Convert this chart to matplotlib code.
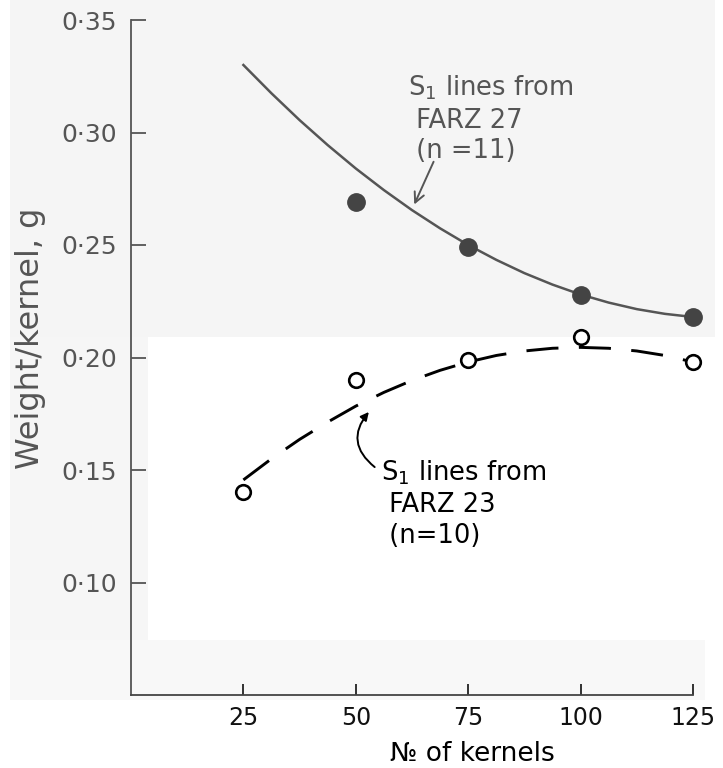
import matplotlib
matplotlib.use("Agg")
import matplotlib.pyplot as plt
from matplotlib.patches import Rectangle

# ---- data ----
kernels = [25, 50, 75, 100, 125]
farz27_points_x = [50, 75, 100, 125]
farz27_points_y = [0.269, 0.249, 0.228, 0.218]
farz23_points_y = [0.140, 0.190, 0.199, 0.209, 0.198]

curve_x = [25, 31.25, 37.5, 43.75, 50, 56.25, 62.5, 68.75, 75, 81.25, 87.5,
           93.75, 100, 106.25, 112.5, 118.75, 125]
farz27_curve = [0.330, 0.3174, 0.3055, 0.2944, 0.284, 0.2744, 0.2655, 0.2574, 0.250,
                0.2434, 0.2375, 0.2324, 0.228, 0.2244, 0.2215, 0.2194, 0.218]
farz23_curve = [0.1456, 0.1550, 0.1636, 0.1713, 0.1784, 0.1845, 0.1898, 0.1943, 0.198,
                0.2009, 0.2029, 0.2041, 0.2045, 0.2041, 0.2029, 0.2009, 0.198]

yticks = [0.10, 0.15, 0.20, 0.25, 0.30, 0.35]
ytick_labels = ["0·10", "0·15", "0·20", "0·25", "0·30", "0·35"]
xticks = [25, 50, 75, 100, 125]
xtick_labels = ["25", "50", "75", "100", "125"]

W, H = 723, 768
fig = plt.figure(figsize=(W / 100, H / 100), dpi=100)
fig.patch.set_facecolor("white")

def frect(x0, y0, x1, y1, color):
    fig.patches.append(Rectangle((x0 / W, 1 - y1 / H), (x1 - x0) / W, (y1 - y0) / H,
                                 transform=fig.transFigure, facecolor=color,
                                 edgecolor="none", zorder=-10))

# light grey scan background areas
frect(10, 0, 715, 337, "#f5f5f5")
frect(10, 337, 148, 640, "#f6f6f6")
frect(10, 640, 705, 700, "#f8f8f8")

ax = fig.add_axes([131 / W, 1 - 695 / H, (693 - 131) / W, (695 - 20) / H])
ax.set_facecolor("none")
ax.set_xlim(0, 125)
ax.set_ylim(0.05, 0.35)

for s in ["top", "right"]:
    ax.spines[s].set_visible(False)
ax.spines["left"].set_color("#555555")
ax.spines["bottom"].set_color("#444444")
ax.spines["left"].set_linewidth(1.3)
ax.spines["bottom"].set_linewidth(1.3)

ax.set_yticks(yticks)
ax.set_yticklabels(ytick_labels)
ax.set_xticks(xticks)
ax.set_xticklabels(xtick_labels)
ax.tick_params(axis="y", direction="in", length=11, width=1.3, pad=10,
               labelsize=18, colors="#555555")
ax.tick_params(axis="x", direction="in", length=8, width=1.2, pad=8,
               labelsize=17, colors="#111111")

# FARZ 27 (solid curve, filled points)
ax.plot(curve_x, farz27_curve, color="#555555", lw=1.8, zorder=2)
ax.plot(farz27_points_x, farz27_points_y, "o", ms=12.5, color="#444444", zorder=3,
        clip_on=False)

# FARZ 23 (dashed curve, open points)
ax.plot(curve_x, farz23_curve, color="black", lw=2.1, dashes=(11, 7), zorder=2)
ax.plot(kernels, farz23_points_y, "o", ms=10.5, mfc="white", mec="black", mew=1.9,
        zorder=3, clip_on=False)

# annotations
ax.text(61.5, 0.326, "S$_1$ lines from\n FARZ 27\n (n =11)", fontsize=18.5,
        color="#555555", ha="left", va="top", linespacing=1.25)
ax.annotate("", xy=(63.0, 0.268), xytext=(67.3, 0.287),
            arrowprops=dict(arrowstyle="->", color="#555555", lw=1.4,
                            shrinkA=0, shrinkB=0, mutation_scale=18))

ax.text(55.5, 0.155, "S$_1$ lines from\n FARZ 23\n (n=10)", fontsize=18.5,
        color="black", ha="left", va="top", linespacing=1.25)
ax.annotate("", xy=(52.9, 0.1758), xytext=(54.2, 0.1513),
            arrowprops=dict(arrowstyle="-|>", color="black", lw=1.4,
                            connectionstyle="arc3,rad=-0.5",
                            shrinkA=0, shrinkB=0, mutation_scale=12))

fig.text(31 / W, 1 - 338 / H, "Weight/kernel, g", rotation=90, ha="center",
         va="center", fontsize=23, color="#555555")
fig.text(472 / W, 1 - 754 / H, "№ of kernels", ha="center", va="center",
         fontsize=19, color="black")

fig.savefig("out.png", dpi=100)
